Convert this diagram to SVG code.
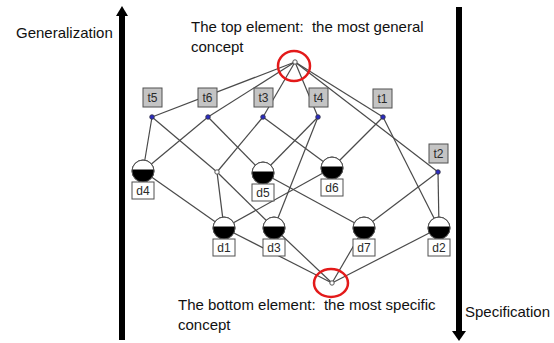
<svg xmlns="http://www.w3.org/2000/svg" xmlns:xlink="http://www.w3.org/1999/xlink" width="554" height="343" viewBox="0 0 554 343">
  <style>
    .cap { font-family: "Liberation Sans", Arial, sans-serif; font-size: 15px; fill: #111; white-space: pre; }
    .edge { stroke: #4a4a4a; stroke-width: 1.2; fill: none; }
    .abox { fill: #c4c4c4; stroke: #505050; stroke-width: 1; }
    .obox { fill: #fff; stroke: #505050; stroke-width: 1; }
    .lbl { font-family: "Liberation Sans", Arial, sans-serif; font-size: 12px; fill: #2a2a2a; text-anchor: middle; }
    .pt { fill: #fff; stroke: #555; stroke-width: 1; }
    .att { fill: #2b2bc0; stroke: #334; stroke-width: 0.8; }
    .ring { fill: none; stroke: #e31a1a; stroke-width: 2.5; }
  </style>
  <defs>
    <!-- object concept: white upper cap, black lower part -->
    <g id="obj">
      <circle r="11" fill="#fff" stroke="#555" stroke-width="1"/>
      <path d="M -10.9 -1.5 A 11 11 0 1 0 10.9 -1.5 Z" fill="#000"/>
      <circle r="11" fill="none" stroke="#555" stroke-width="1"/>
    </g>
  </defs>

  <!-- direction arrows -->
  <g id="arrow-up">
    <rect x="119" y="14" width="6" height="326" fill="#000"/>
    <polygon points="116,16 122,6 128,16" fill="#000"/>
  </g>
  <g id="arrow-down">
    <rect x="456" y="7" width="6" height="326" fill="#000"/>
    <polygon points="452,331 459,341 466,331" fill="#000"/>
  </g>

  <!-- captions -->
  <text class="cap" x="16" y="38">Generalization</text>
  <text class="cap" x="191" y="32">The top element:  the most general</text>
  <text class="cap" x="191" y="52">concept</text>
  <text class="cap" x="178" y="310">The bottom element:  the most specific</text>
  <text class="cap" x="178" y="330">concept</text>
  <text class="cap" x="465" y="317">Specification</text>

  <!-- connectors -->
  <g id="edges" class="edge">
    <line x1="295" y1="62" x2="152" y2="117"/>
    <line x1="295" y1="62" x2="208" y2="117"/>
    <line x1="295" y1="62" x2="263" y2="117"/>
    <line x1="295" y1="62" x2="318" y2="117"/>
    <line x1="295" y1="62" x2="383" y2="117"/>
    <line x1="295" y1="62" x2="438" y2="172"/>
    <line x1="152" y1="117" x2="143" y2="171"/>
    <line x1="152" y1="117" x2="217" y2="172"/>
    <line x1="208" y1="117" x2="143" y2="171"/>
    <line x1="208" y1="117" x2="263" y2="173"/>
    <line x1="263" y1="117" x2="217" y2="172"/>
    <line x1="263" y1="117" x2="332" y2="168"/>
    <line x1="318" y1="117" x2="263" y2="173"/>
    <line x1="318" y1="117" x2="274" y2="228"/>
    <line x1="383" y1="117" x2="332" y2="168"/>
    <line x1="383" y1="117" x2="439" y2="228"/>
    <line x1="438" y1="172" x2="364" y2="228"/>
    <line x1="438" y1="172" x2="439" y2="228"/>
    <line x1="217" y1="172" x2="224" y2="228"/>
    <line x1="217" y1="172" x2="274" y2="228"/>
    <line x1="143" y1="171" x2="224" y2="228"/>
    <line x1="263" y1="173" x2="364" y2="228"/>
    <line x1="332" y1="168" x2="224" y2="228"/>
    <line x1="224" y1="228" x2="332" y2="283"/>
    <line x1="274" y1="228" x2="332" y2="283"/>
    <line x1="364" y1="228" x2="332" y2="283"/>
    <line x1="439" y1="228" x2="332" y2="283"/>
  </g>

  <!-- top and bottom elements, unlabeled concept -->
  <g id="top"><circle class="pt" cx="295" cy="62" r="2.2"/></g>
  <g id="bottom"><circle class="pt" cx="332" cy="283" r="2.2"/></g>
  <g id="meet"><circle class="pt" cx="217" cy="172" r="2.2"/></g>

  <!-- attribute concepts -->
  <g id="t5"><rect class="abox" x="143" y="88" width="19" height="19"/><text class="lbl" x="152.5" y="102">t5</text><circle class="att" cx="152" cy="117" r="2.3"/></g>
  <g id="t6"><rect class="abox" x="198" y="88" width="19" height="19"/><text class="lbl" x="207.5" y="102">t6</text><circle class="att" cx="208" cy="117" r="2.3"/></g>
  <g id="t3"><rect class="abox" x="254" y="88" width="19" height="19"/><text class="lbl" x="263.5" y="102">t3</text><circle class="att" cx="263" cy="117" r="2.3"/></g>
  <g id="t4"><rect class="abox" x="309" y="88" width="19" height="19"/><text class="lbl" x="318.5" y="102">t4</text><circle class="att" cx="318" cy="117" r="2.3"/></g>
  <g id="t1"><rect class="abox" x="373" y="89" width="19" height="19"/><text class="lbl" x="382.5" y="103">t1</text><circle class="att" cx="383" cy="117" r="2.3"/></g>
  <g id="t2"><rect class="abox" x="429" y="144" width="19" height="19"/><text class="lbl" x="438.5" y="158">t2</text><circle class="att" cx="438" cy="172" r="2.3"/></g>

  <!-- object concepts -->
  <g id="d4"><use xlink:href="#obj" x="143" y="171"/><rect class="obox" x="132" y="182" width="22" height="17"/><text class="lbl" x="143" y="195">d4</text></g>
  <g id="d5"><use xlink:href="#obj" x="263" y="173"/><rect class="obox" x="252" y="184" width="22" height="17"/><text class="lbl" x="263" y="197">d5</text></g>
  <g id="d6"><use xlink:href="#obj" x="332" y="168"/><rect class="obox" x="321" y="179" width="22" height="17"/><text class="lbl" x="332" y="192">d6</text></g>
  <g id="d1"><use xlink:href="#obj" x="224" y="228"/><rect class="obox" x="213" y="239" width="22" height="17"/><text class="lbl" x="224" y="252">d1</text></g>
  <g id="d3"><use xlink:href="#obj" x="274" y="228"/><rect class="obox" x="263" y="239" width="22" height="17"/><text class="lbl" x="274" y="252">d3</text></g>
  <g id="d7"><use xlink:href="#obj" x="364" y="228"/><rect class="obox" x="353" y="239" width="22" height="17"/><text class="lbl" x="364" y="252">d7</text></g>
  <g id="d2"><use xlink:href="#obj" x="439" y="228"/><rect class="obox" x="428" y="239" width="22" height="17"/><text class="lbl" x="439" y="252">d2</text></g>

  <!-- highlight rings -->
  <ellipse class="ring" cx="294" cy="66" rx="16" ry="15"/>
  <ellipse class="ring" cx="331" cy="283" rx="17" ry="14"/>
</svg>
